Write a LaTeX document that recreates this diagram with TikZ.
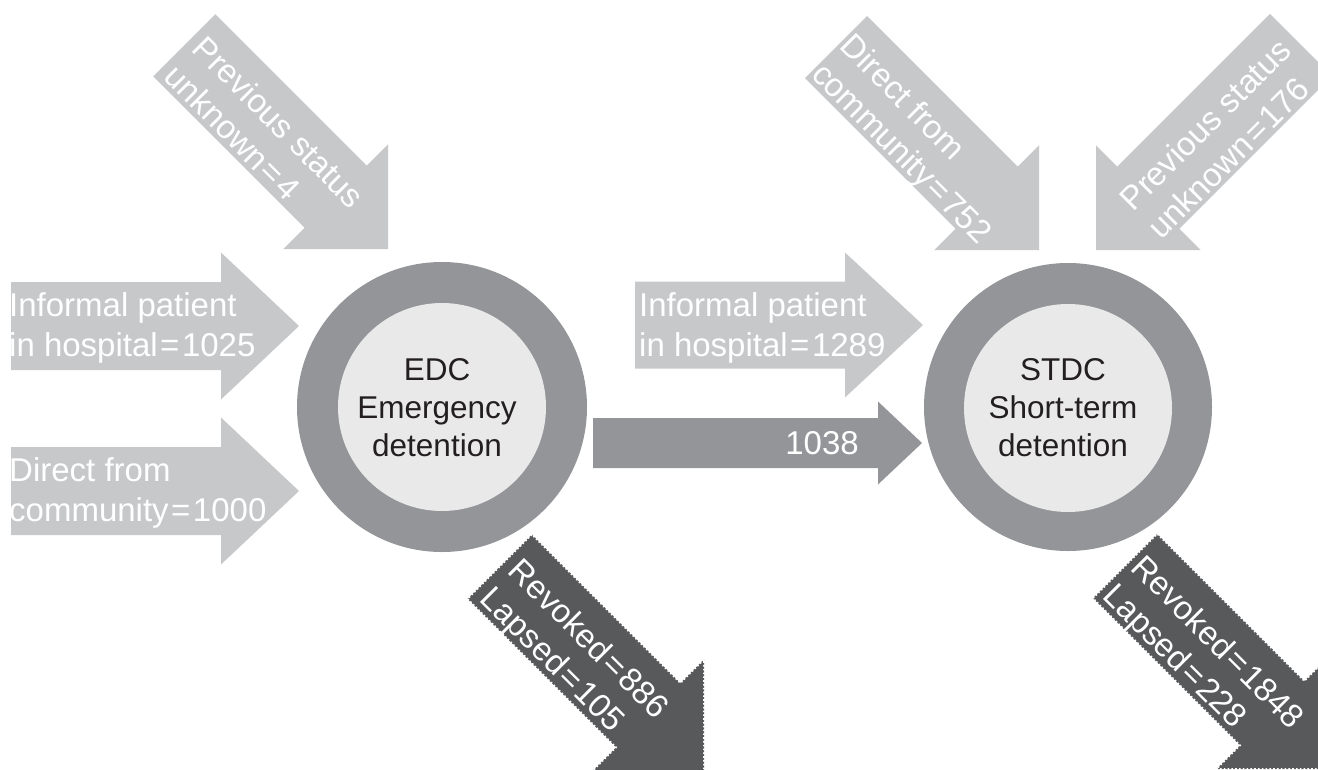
\documentclass[tikz,border=0pt]{standalone}
\usepackage{fontspec}
\setmainfont{Liberation Sans}
\usetikzlibrary{calc}

\definecolor{inflow}{HTML}{C7C8CA}
\definecolor{ring}{HTML}{939598}
\definecolor{core}{HTML}{E9E9EA}
\definecolor{outflow}{HTML}{58595B}
\definecolor{ink}{HTML}{231F20}

% equals sign with a little air on both sides
\newcommand{\eqsign}{\kern2.5pt=\kern2.5pt}

\tikzset{
  % block arrow with its tip at the origin, pointing along +x:
  % {total length}{shaft width}{head width}{head length}
  arrowshape/.style n args={4}{insert path={(0,0) -- (-#4,#3/2) -- (-#4,#2/2)
      -- (-#1,#2/2) -- (-#1,-#2/2) -- (-#4,-#2/2) -- (-#4,-#3/2) -- cycle}},
  perforated/.style={draw=white, line width=1.8pt, dash pattern=on 1.6pt off 2.2pt},
  lbl/.style={text=white, inner sep=0pt, align=left,
      font=\fontsize{33pt}{40pt}\selectfont, transform shape, anchor=west},
  ctr/.style={text=ink, inner sep=0pt, align=center,
      font=\fontsize{31.5pt}{38pt}\selectfont},
  disc/.style={circle, inner sep=0pt},
}

\begin{document}
\begin{tikzpicture}[x=1pt, y=-1pt]
\path[use as bounding box] (0,0) rectangle (1318,769);
\clip (0,0) rectangle (1318,769);

% ---------- detention stages ----------
\node[disc, fill=ring, minimum size=290pt] (edcring) at (442,407) {};
\node[disc, fill=core, minimum size=208pt] (edc) at (442,407) {};
\node[ctr] (edctext) at (437,411) {\strut EDC\\Emergency\\detention\strut};

\node[disc, fill=ring, minimum size=288pt] (stdcring) at (1068,407) {};
\node[disc, fill=core, minimum size=208pt] (stdc) at (1068,408) {};
\node[ctr] (stdctext) at (1063,411) {\strut STDC\\Short-term\\detention\strut};

% ---------- inflows to EDC ----------
\begin{scope}[shift={(388,249)}, rotate=-45]
  \fill[inflow, arrowshape={288}{88}{148}{74}];
  \coordinate (unkA-tip) at (0,0);
  \node[lbl] (unkA) at (-280,11) {\strut Previous status\\unknown\eqsign 4\strut};
\end{scope}

\begin{scope}[shift={(299,326)}]
  \fill[inflow, arrowshape={288}{88}{147}{78}];
  \coordinate (infA-tip) at (0,0);
  \node[lbl] (infA) at (-290,2) {\strut Informal patient\\in hospital\eqsign 1025\strut};
\end{scope}

\begin{scope}[shift={(299,491)}]
  \fill[inflow, arrowshape={288}{88}{147}{78}];
  \coordinate (comA-tip) at (0,0);
  \node[lbl] (comA) at (-290,2) {\strut Direct from\\community\eqsign 1000\strut};
\end{scope}

% ---------- EDC to STDC ----------
\begin{scope}[shift={(922,443)}]
  \fill[ring, arrowshape={329}{50}{83}{44}];
  \coordinate (trans-tip) at (0,0);
\end{scope}
\node[text=white, inner sep=0pt, font=\fontsize{33pt}{40pt}\selectfont, anchor=east]
  (trans) at (859,443) {1038};

% ---------- inflows to STDC ----------
\begin{scope}[shift={(923,325)}]
  \fill[inflow, arrowshape={288}{87}{145}{78}];
  \coordinate (infB-tip) at (0,0);
  \node[lbl] (infB) at (-284,3) {\strut Informal patient\\in hospital\eqsign 1289\strut};
\end{scope}

\begin{scope}[shift={(1039,250)}, rotate=-45]
  \fill[inflow, arrowshape={287}{88}{148}{74}];
  \coordinate (comB-tip) at (0,0);
  \node[lbl] (comB) at (-285,11) {\strut Direct from\\community\eqsign 752\strut};
\end{scope}

\begin{scope}[shift={(1096,250)}, rotate=-135]
  \fill[inflow, arrowshape={290}{88}{148}{74}];
  \coordinate (unkB-tip) at (0,0);
\end{scope}
\begin{scope}[shift={(1096,250)}, rotate=45]
  \node[lbl] (unkB) at (53,12) {\strut Previous status\\unknown\eqsign 176\strut};
\end{scope}

% ---------- outflows ----------
\begin{scope}[shift={(704,771)}, rotate=-45]
  \fill[outflow, arrowshape={289}{91}{158}{79}];
  \path[perforated, arrowshape={289}{91}{158}{79}];
  \coordinate (outA-tip) at (0,0);
  \node[lbl] (outA) at (-280,11) {\strut Revoked\eqsign 886\\Lapsed\eqsign 105\strut};
\end{scope}

\begin{scope}[shift={(1328,769)}, rotate=-45]
  \fill[outflow, arrowshape={287}{91}{158}{79}];
  \path[perforated, arrowshape={287}{91}{158}{79}];
  \coordinate (outB-tip) at (0,0);
  \node[lbl] (outB) at (-282,11) {\strut Revoked\eqsign 1848\\Lapsed\eqsign 228\strut};
\end{scope}
\end{tikzpicture}
\end{document}
